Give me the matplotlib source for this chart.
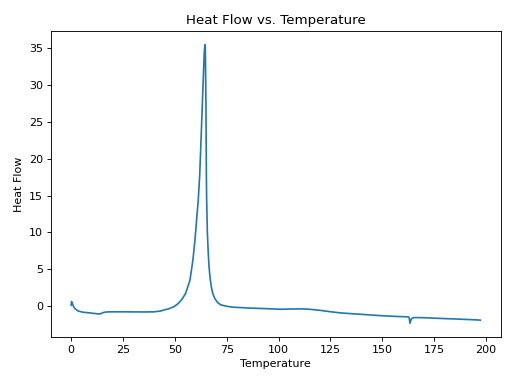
import matplotlib
matplotlib.use("Agg")
import matplotlib.pyplot as plt

temperature = [0.0, 0.2, 0.5, 1.0, 1.6, 2.4, 3.5, 5.6, 8.0, 10.5, 12.9, 13.8, 14.5, 15.5, 16.9, 20, 25, 30, 35, 40, 43, 44.8, 47, 49.6, 51.5, 53.2, 55.2, 57.3, 58.7, 59.7, 60.5, 61.3, 62.0, 62.7, 63.3, 63.8, 64.2, 64.5, 64.7, 65.0, 65.2, 65.35, 65.7, 66.1, 66.5, 67.0, 67.6, 68.3, 69.2, 70.5, 72.1, 75.0, 78.5, 81.7, 85, 90, 95, 101, 106, 111, 115, 120, 125.6, 130, 135, 141.5, 148, 154.6, 158, 162.6, 163.0, 163.4, 163.8, 164.3, 165.0, 165.8, 170, 175, 180, 185, 190, 195, 197.3]
heat_flow = [0.1, 0.6, 0.4, 0.0, -0.3, -0.5, -0.7, -0.85, -0.92, -1.0, -1.08, -1.1, -1.02, -0.9, -0.82, -0.8, -0.8, -0.81, -0.82, -0.8, -0.7, -0.55, -0.4, -0.1, 0.3, 0.8, 1.7, 3.5, 6.2, 8.9, 11.7, 14.4, 17.8, 23.0, 27.7, 31.5, 34.5, 35.5, 35.2, 27.7, 18.0, 14.4, 9.9, 7.3, 5.3, 3.8, 2.6, 1.7, 1.05, 0.5, 0.15, -0.05, -0.18, -0.22, -0.28, -0.33, -0.38, -0.45, -0.42, -0.4, -0.45, -0.6, -0.81, -0.95, -1.05, -1.17, -1.3, -1.4, -1.44, -1.49, -1.6, -2.35, -1.95, -1.7, -1.62, -1.58, -1.6, -1.66, -1.72, -1.77, -1.83, -1.89, -1.93]

fig, ax = plt.subplots(figsize=(6.4, 4.8), dpi=80)
ax.plot(temperature, heat_flow)
ax.set_title("Heat Flow vs. Temperature")
ax.set_xlabel("Temperature")
ax.set_ylabel("Heat Flow")
fig.subplots_adjust(left=0.099, right=0.978, top=0.920, bottom=0.122)
fig.savefig("out.png")
